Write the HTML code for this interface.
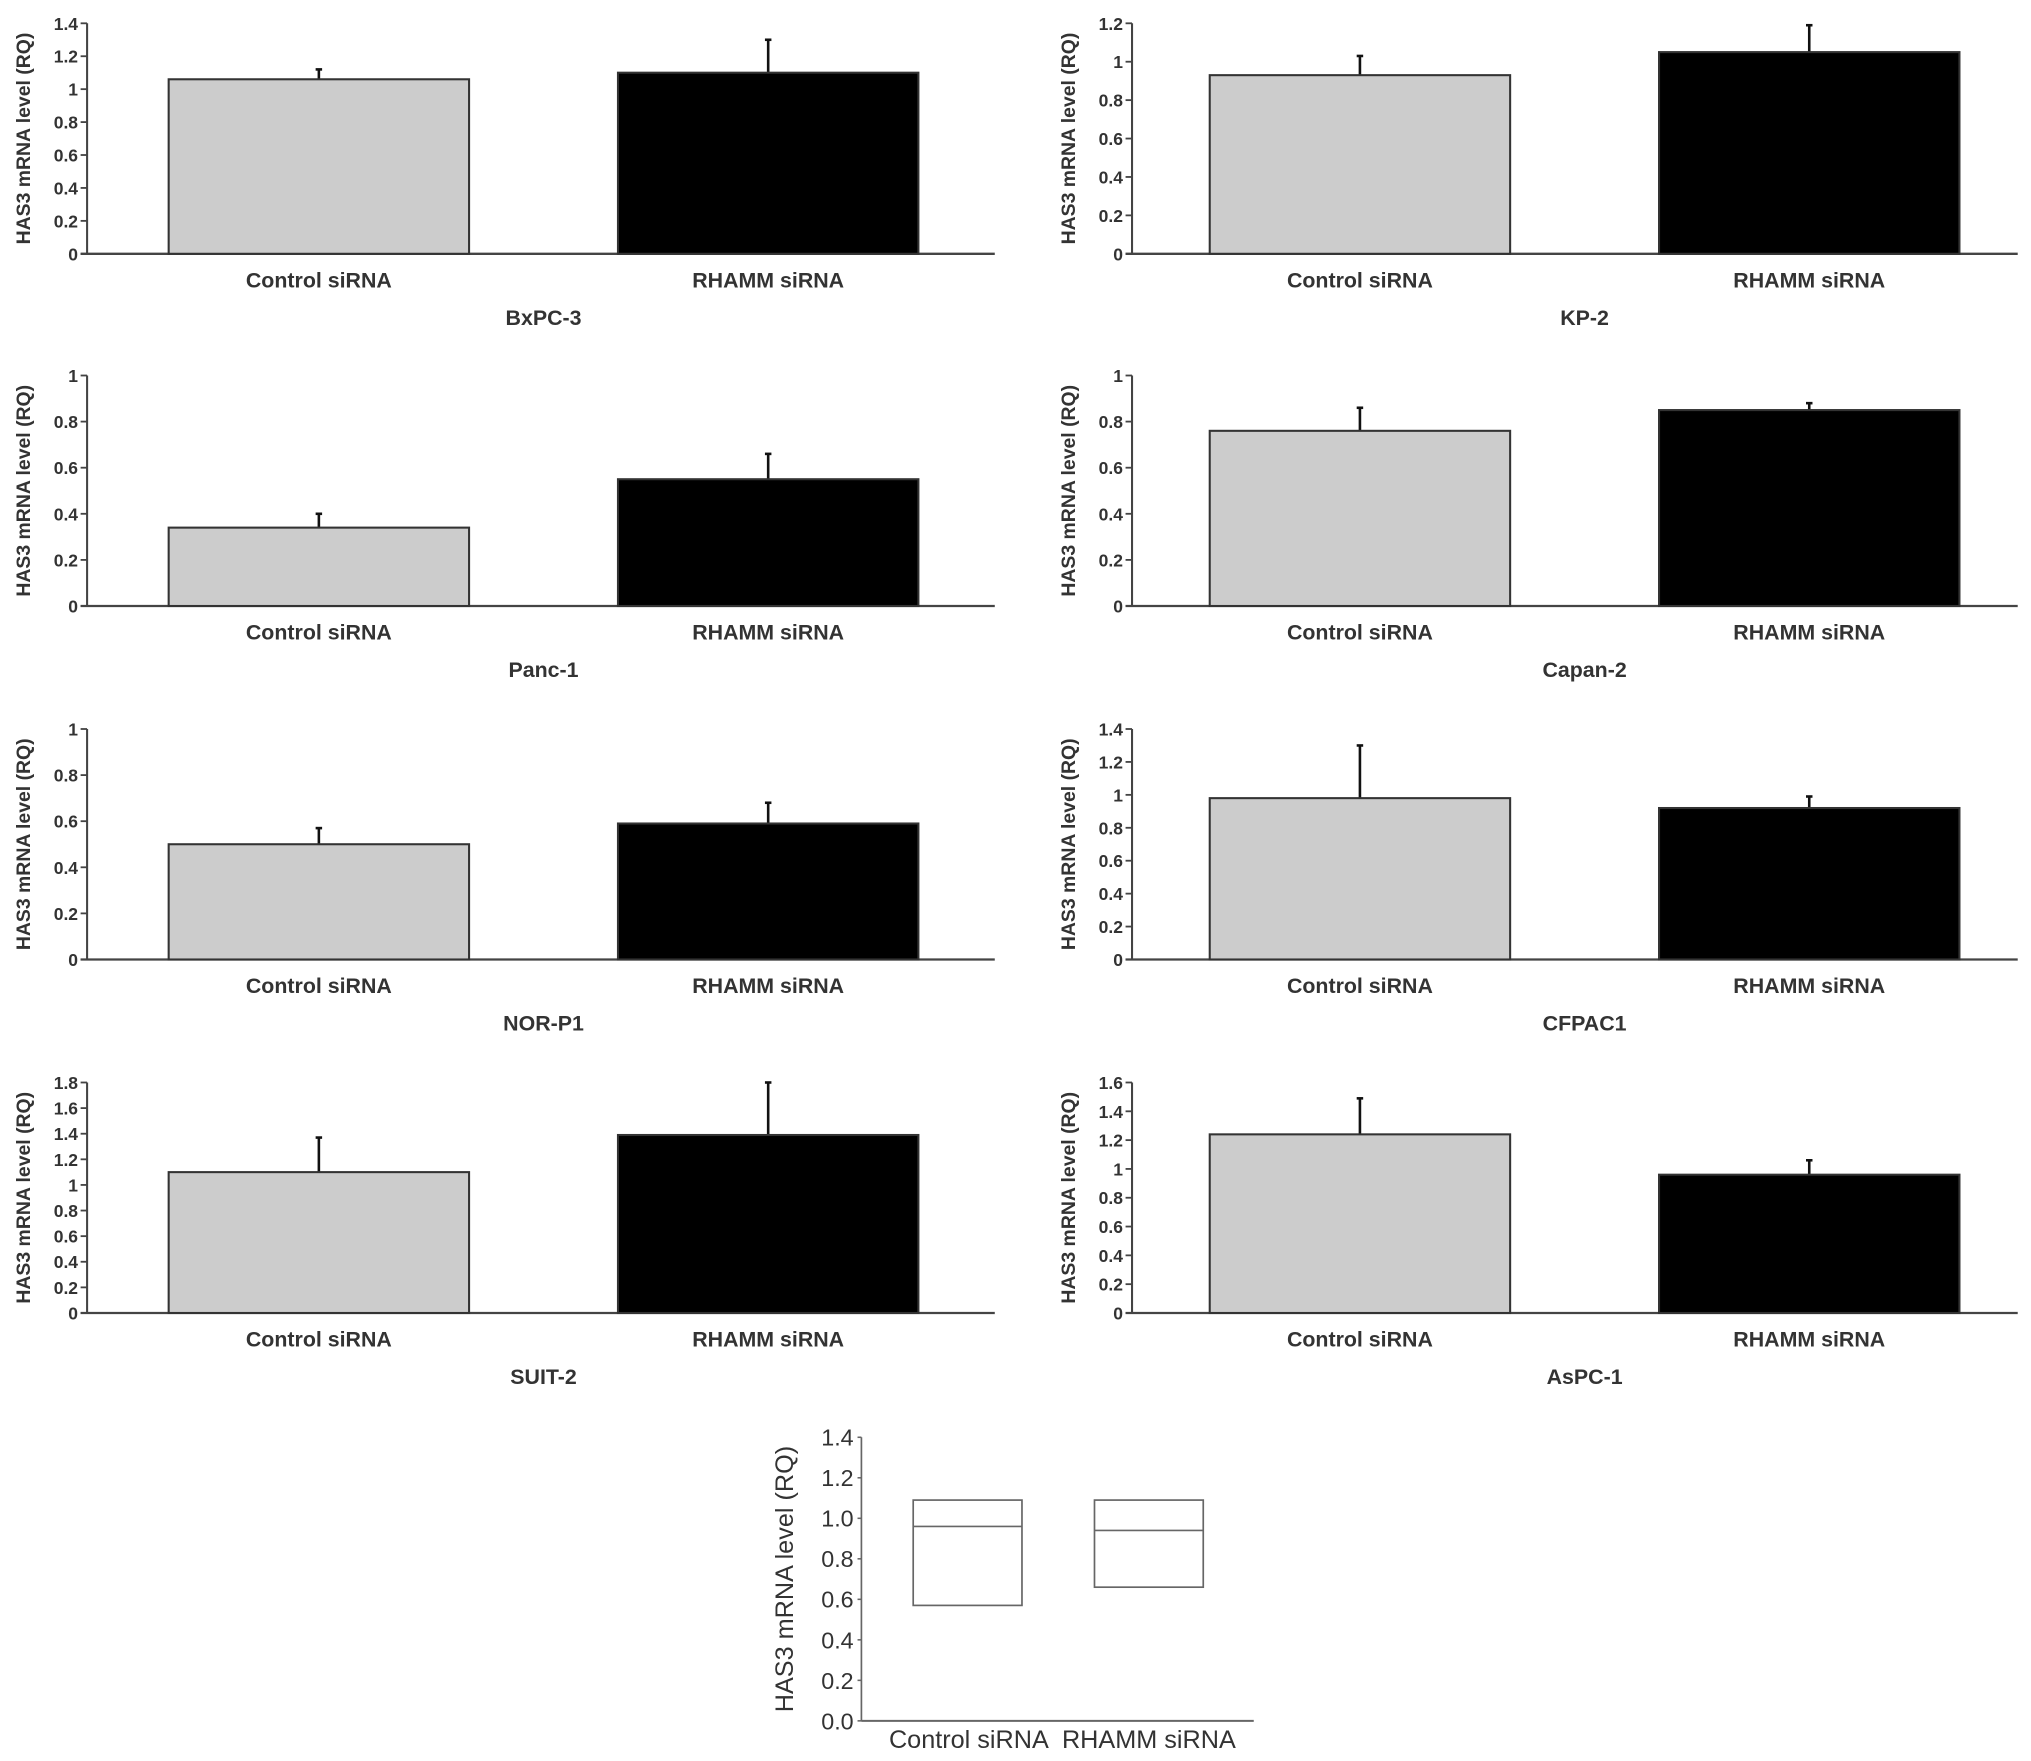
<!DOCTYPE html>
<html><head><meta charset="utf-8">
<style>
html,body{margin:0;padding:0;background:#fff;}
svg{display:block;}
text{font-family:"Liberation Sans",Arial,sans-serif;fill:#333;}
</style></head>
<body>
<svg id="chart" width="2031" height="1761" viewBox="0 0 1568 1360" xmlns="http://www.w3.org/2000/svg"></svg>
<script>
const panelNames = ["BxPC-3","KP-2","Panc-1","Capan-2","NOR-P1","CFPAC1","SUIT-2","AsPC-1"];
const categories = ["Control siRNA","RHAMM siRNA"];
const controlMeans = [1.06,0.93,0.34,0.76,0.50,0.98,1.10,1.24];
const controlErrTop = [1.12,1.03,0.40,0.86,0.57,1.30,1.37,1.49];
const rhammMeans = [1.10,1.05,0.55,0.85,0.59,0.92,1.39,0.96];
const rhammErrTop = [1.30,1.19,0.66,0.88,0.68,0.99,1.80,1.06];
const axisMax = [1.4,1.2,1,1,1,1.4,1.8,1.6];
const boxQ1 = [0.57,0.66];
const boxMedian = [0.96,0.94];
const boxQ3 = [1.09,1.09];
const boxTicks = ["0.0","0.2","0.4","0.6","0.8","1.0","1.2","1.4"];

const svg = document.getElementById('chart');
const NS = "http://www.w3.org/2000/svg";
function mk(tag, attrs, parent){
  const e = document.createElementNS(NS, tag);
  for (const k in attrs) e.setAttribute(k, attrs[k]);
  (parent||svg).appendChild(e);
  return e;
}
function fmt(v){ return String(Math.round(v*10)/10); }

const rowTop = [18,290,563,836];
const colAxis = [67,874];
const colBars = [[130,477],[934,1281]];
const colRight = [768,1558];
panelNames.forEach((name,i)=>{
  const col = i%2, row = Math.floor(i/2);
  const ax = colAxis[col];
  const top = rowTop[row], zero = top+178;
  const right = colRight[col];
  const g = mk('g',{});
  
  
  const y = v => zero - v/axisMax[i]*(zero-top);
  const yax = mk('line',{x1:ax,y1:top,x2:ax,y2:zero,stroke:'#444','stroke-width':1.6},g);
  
  
  const xax = mk('line',{x1:ax-5,y1:zero,x2:right,y2:zero,stroke:'#444','stroke-width':1.8},g);
  
  
  const n = Math.round(axisMax[i]/0.2);
  for(let k=0;k<=n;k++){
    const v = k*0.2, yy = y(v);
    mk('line',{x1:ax-5,y1:yy,x2:ax,y2:yy,stroke:'#444','stroke-width':1.4},g);
    const t = mk('text',{x:ax-7,y:yy+5,'text-anchor':'end','font-size':13.5,'font-weight':'bold','textLength':0},g);
    t.removeAttribute('textLength');
    t.textContent = fmt(v);
    
    
  }
  const yt = mk('text',{x:0,y:0,'text-anchor':'middle','font-size':15,'font-weight':'bold',transform:`translate(${ax-44},${(top+zero)/2}) rotate(-90)`},g);
  yt.textContent = 'HAS3 mRNA level (RQ)';
  
  
  const barL = colBars[col], bw = 232;
  const means = [controlMeans[i], rhammMeans[i]];
  const tops = [controlErrTop[i], rhammErrTop[i]];
  const fills = ['#cccccc','#000000'];
  for(let b=0;b<2;b++){
    const cx = barL[b]+bw/2;
    const eb = mk('line',{x1:cx,y1:y(means[b]),x2:cx,y2:y(tops[b]),stroke:'#111','stroke-width':2},g);
    
    
    mk('line',{x1:cx-2.5,y1:y(tops[b]),x2:cx+2.5,y2:y(tops[b]),stroke:'#111','stroke-width':2},g);
    const r = mk('rect',{x:barL[b],y:y(means[b]),width:bw,height:zero-y(means[b]),fill:fills[b],stroke:'#333','stroke-width':1.6},g);
    
    
    const cl = mk('text',{x:cx,y:zero+26,'text-anchor':'middle','font-size':16.5,'font-weight':'bold'},g);
    cl.textContent = categories[b];
    
    
  }
  const st = mk('text',{x:(barL[0]+barL[1]+bw)/2,y:zero+55,'text-anchor':'middle','font-size':16.5,'font-weight':'bold'},g);
  st.textContent = name;
  
  
});

(function(){
  const ax = 665, top = 1110, zero = 1329, right = 968;
  const g = mk('g',{});
  
  
  const y = v => zero - v/1.4*(zero-top);
  const yax = mk('line',{x1:ax,y1:top,x2:ax,y2:zero,stroke:'#666','stroke-width':1.3},g);
  
  
  const xax = mk('line',{x1:ax,y1:zero,x2:right,y2:zero,stroke:'#666','stroke-width':1.5},g);
  
  
  boxTicks.forEach((lab,k)=>{
    const yy = y(parseFloat(lab));
    mk('line',{x1:ax-3,y1:yy,x2:ax,y2:yy,stroke:'#666','stroke-width':1.2},g);
    const t = mk('text',{x:ax-6,y:yy+6.5,'text-anchor':'end','font-size':18},g);
    t.textContent = lab;
    
    
  });
  const yt = mk('text',{x:0,y:0,'text-anchor':'middle','font-size':19.5,transform:`translate(612,${(top+zero)/2}) rotate(-90)`},g);
  yt.textContent = 'HAS3 mRNA level (RQ)';
  
  
  const bl = [705,845], bw = 84;
  for(let b=0;b<2;b++){
    const r = mk('rect',{x:bl[b],y:y(boxQ3[b]),width:bw,height:y(boxQ1[b])-y(boxQ3[b]),fill:'none',stroke:'#666','stroke-width':1.3},g);
    
    
    const m = mk('line',{x1:bl[b],y1:y(boxMedian[b]),x2:bl[b]+bw,y2:y(boxMedian[b]),stroke:'#666','stroke-width':1.3},g);
    
    
  }
  const l1 = mk('text',{x:748,y:1350,'text-anchor':'middle','font-size':19.5},g);
  l1.textContent = categories[0];
  
  
  const l2 = mk('text',{x:887,y:1350,'text-anchor':'middle','font-size':19.5},g);
  l2.textContent = categories[1];
  
  
})();
</script>
</body></html>
